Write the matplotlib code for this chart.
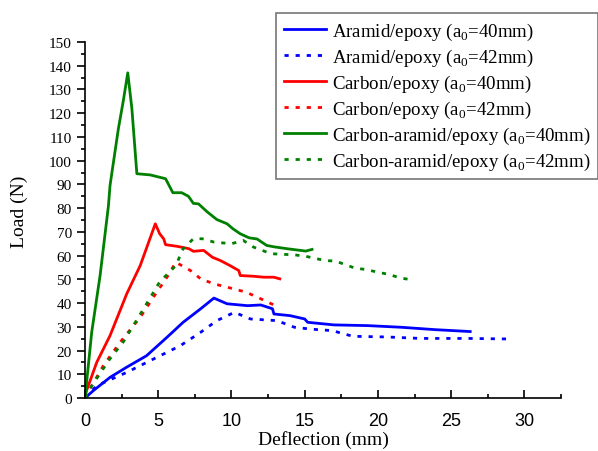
import matplotlib
matplotlib.use("Agg")
import matplotlib.pyplot as plt
from matplotlib.ticker import MultipleLocator

plt.rcParams["font.family"] = "Liberation Serif"
plt.rcParams["mathtext.fontset"] = "custom"
plt.rcParams["mathtext.rm"] = "Liberation Serif"

# Aramid/epoxy, a0 = 40 mm
ar40_x = [0, 0.57, 1.71, 2.85, 4.2, 5.6, 6.7, 7.9, 8.8, 9.7, 11.1, 12.0, 12.8, 12.9,
          14.0, 15.0, 15.2, 17.0, 19.3, 21.6, 23.9, 26.3]
ar40_y = [0, 3.1, 8.7, 13.0, 17.8, 25.6, 31.9, 37.6, 42.1, 39.7, 38.9, 39.2, 37.6, 35.4,
          34.7, 33.3, 31.9, 30.8, 30.5, 29.8, 28.8, 28.0]
# Aramid/epoxy, a0 = 42 mm
ar42_x = [0, 0.8, 2.85, 4.7, 6.5, 7.9, 9.0, 10.2, 11.3, 13.1, 14.3, 15.3, 16.1, 16.9,
          17.5, 18.3, 20.7, 22.9, 26.1, 28.5, 29.2]
ar42_y = [0, 5.2, 10.8, 16.5, 22.0, 27.7, 32.6, 36.1, 33.3, 32.6, 29.8, 29.1, 28.7, 28.4,
          27.3, 26.0, 25.7, 25.1, 25.1, 24.9, 24.9]
# Carbon/epoxy, a0 = 40 mm
cb40_x = [0, 0.1, 0.8, 1.71, 2.85, 3.77, 4.8, 5.1, 5.37, 5.5, 6.3, 7.1, 7.4, 8.1, 8.7,
          9.25, 9.9, 10.5, 10.6, 11.5, 12.2, 12.9, 13.3]
cb40_y = [0, 3.0, 15.0, 26.3, 43.9, 55.8, 73.4, 69.2, 67.1, 64.6, 63.9, 62.9, 61.8, 62.2,
          59.3, 57.9, 55.8, 53.7, 51.6, 51.3, 50.9, 50.9, 50.2]
# Carbon/epoxy, a0 = 42 mm
cb42_x = [0, 0.34, 1.25, 2.4, 3.77, 4.9, 5.6, 6.2, 7.2, 7.9, 8.8, 9.7, 11.0, 12.0, 13.0]
cb42_y = [0, 3.8, 13.6, 23.5, 34.0, 44.6, 50.9, 57.2, 53.7, 50.2, 48.1, 46.7, 44.6, 41.8, 38.9]
# Carbon-aramid/epoxy, a0 = 40 mm
ca40_x = [0, 0.46, 1.03, 1.6, 1.71, 2.28, 2.62, 2.92, 3.2, 3.54, 4.45, 5.5, 6.0, 6.6,
          7.06, 7.4, 7.75, 8.33, 9.0, 9.7, 10.1, 10.6, 11.2, 11.75, 12.4, 12.9, 13.8,
          15.07, 15.5]
ca40_y = [0, 27.8, 51.6, 81.0, 89.6, 113.5, 125.4, 137.0, 122.0, 94.5, 94.0, 92.4, 86.5,
          86.5, 85.0, 82.0, 81.8, 78.5, 75.2, 73.4, 71.3, 69.2, 67.5, 67.0, 64.3, 63.7,
          62.9, 61.9, 62.6]
# Carbon-aramid/epoxy, a0 = 42 mm
ca42_x = [0, 0.23, 1.7, 2.6, 4.0, 5.1, 6.2, 6.7, 7.4, 8.0, 8.8, 10.0, 10.8, 11.5, 12.7,
          14.3, 15.0, 16.4, 17.1, 18.4, 19.2, 20.0, 20.8, 21.5, 22.3, 22.4]
ca42_y = [0, 3.0, 16.5, 23.5, 37.6, 48.9, 55.8, 62.9, 67.1, 67.1, 65.7, 65.0, 66.4, 63.6,
          60.8, 60.3, 59.8, 57.9, 57.7, 54.8, 54.1, 53.0, 52.0, 50.6, 49.8, 49.5]

series = [
    (ar40_x, ar40_y, "#0000ff", "-", r"Aramid/epoxy (a$_\mathrm{0}$=40mm)"),
    (ar42_x, ar42_y, "#0000ff", ":", r"Aramid/epoxy (a$_\mathrm{0}$=42mm)"),
    (cb40_x, cb40_y, "#ff0000", "-", r"Carbon/epoxy (a$_\mathrm{0}$=40mm)"),
    (cb42_x, cb42_y, "#ff0000", ":", r"Carbon/epoxy (a$_\mathrm{0}$=42mm)"),
    (ca40_x, ca40_y, "#008000", "-", r"Carbon-aramid/epoxy (a$_\mathrm{0}$=40mm)"),
    (ca42_x, ca42_y, "#008000", ":", r"Carbon-aramid/epoxy (a$_\mathrm{0}$=42mm)"),
]

fig = plt.figure(figsize=(5.98, 4.52), dpi=100)
ax = fig.add_axes([85 / 598, 1 - 399 / 452, (561 - 85) / 598, (399 - 43) / 452])

for x, y, color, style, label in series:
    ls = "-" if style == "-" else (0, (1.5, 2.5))
    ax.plot(x, y, color=color, linestyle=ls, linewidth=2.0, label=label)

ax.set_xlim(0, 32.5)
ax.set_ylim(0, 150)
ax.xaxis.set_major_locator(MultipleLocator(5))
ax.xaxis.set_minor_locator(MultipleLocator(2.5))
ax.yaxis.set_major_locator(MultipleLocator(10))
ax.yaxis.set_minor_locator(MultipleLocator(5))

for side in ("top", "right"):
    ax.spines[side].set_visible(False)
for side in ("left", "bottom"):
    ax.spines[side].set_linewidth(1.2)

ax.tick_params(axis="x", which="both", direction="in", width=1.2, pad=10)
ax.tick_params(axis="x", which="major", length=6)
ax.tick_params(axis="x", which="minor", length=3)
ax.tick_params(axis="y", which="both", direction="out", width=1.2)
ax.tick_params(axis="y", which="major", length=6, labelsize=11)
ax.tick_params(axis="y", which="minor", length=3)
for lbl in ax.get_xticklabels():
    lbl.set_fontfamily("Liberation Sans")
    lbl.set_fontsize(13)

ax.set_xlabel("Deflection (mm)", fontsize=14)
ax.set_ylabel("Load (N)", fontsize=14)
ax.xaxis.set_label_coords(0.5, -0.09)
ax.yaxis.set_label_coords(-0.12, 0.525)

leg = fig.legend(loc="upper left", bbox_to_anchor=(276 / 598, 1 - 14 / 452),
                 borderaxespad=0, fancybox=False, fontsize=13.6, handlelength=2.25,
                 handletextpad=0.3, labelspacing=0.26, borderpad=0.4)
leg.get_frame().set_edgecolor("#555555")
leg.get_frame().set_linewidth(1.2)

fig.savefig("out.png", dpi=100)
